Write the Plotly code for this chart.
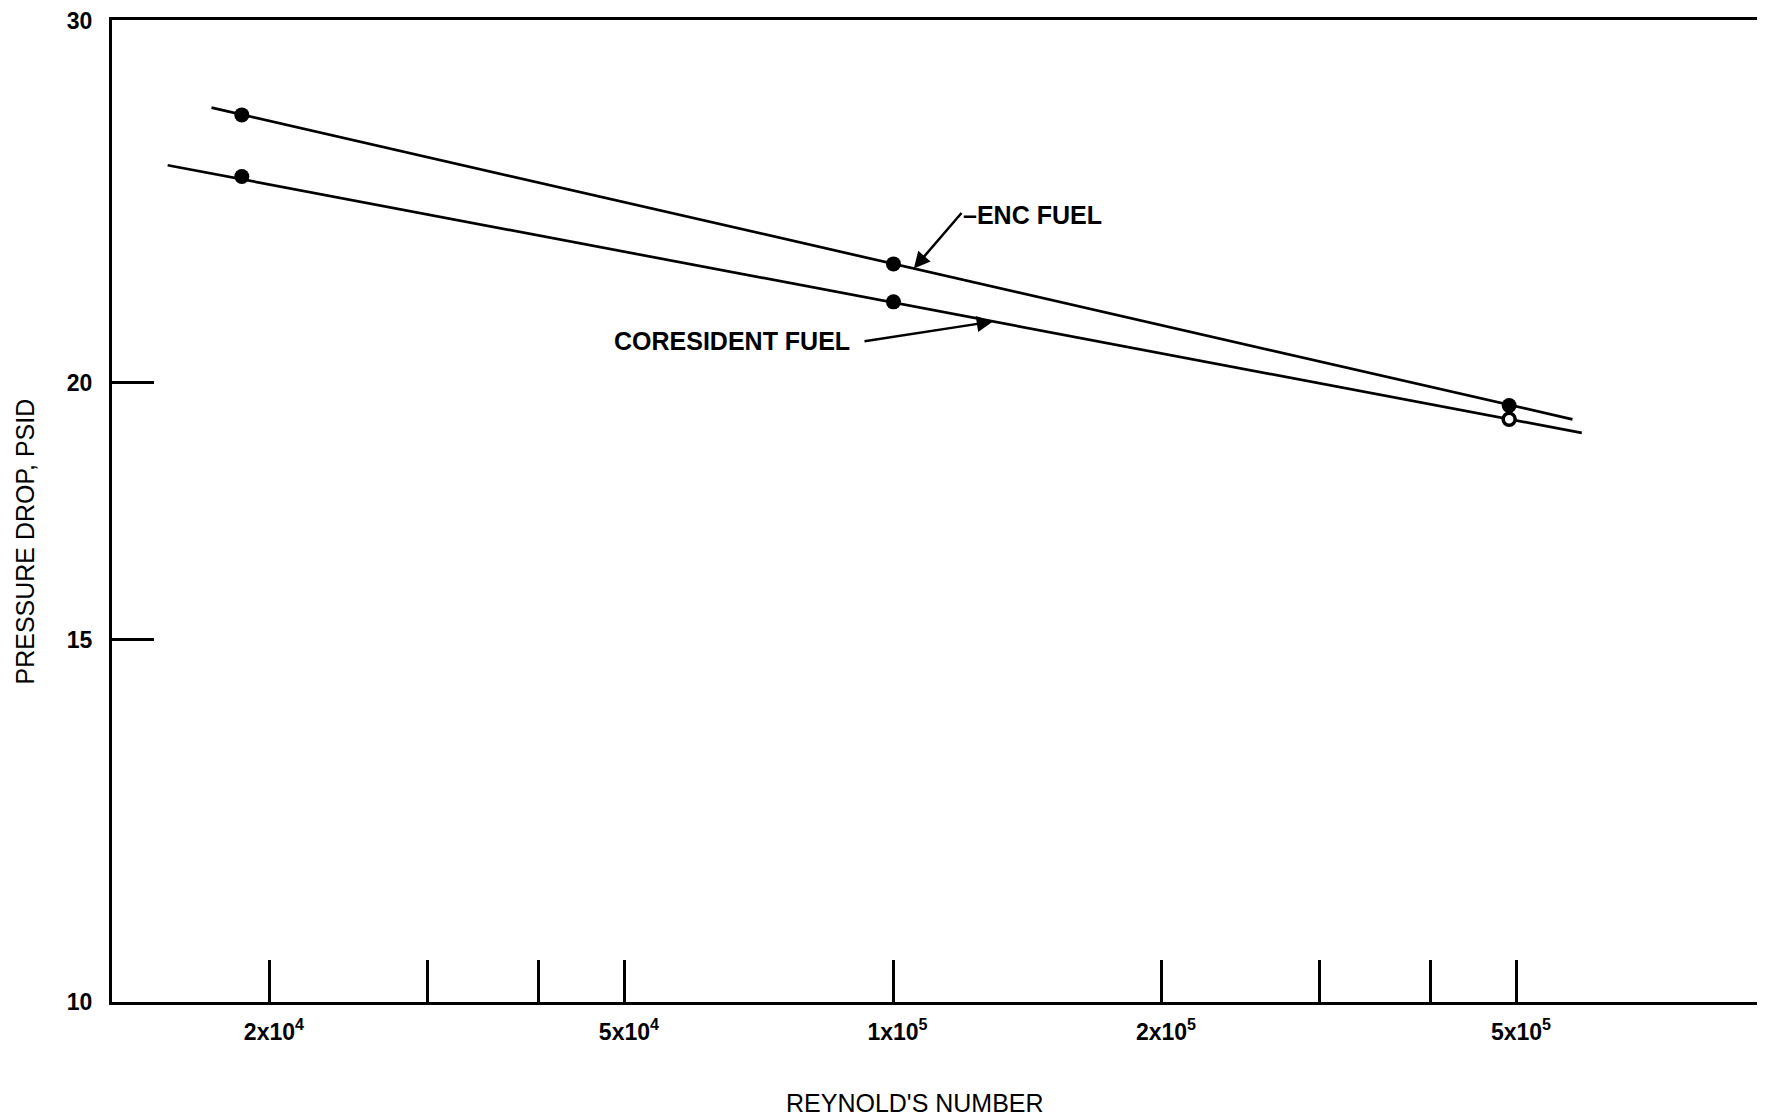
import numpy as np
import plotly.graph_objects as go

# ---- data ----
reynolds_pts = [1.86e4, 1.0e5, 4.9e5]
enc_pts = [27.0, 22.85, 19.5]
cores_pts = [25.2, 21.9, 19.2]
cores_hollow = [False, False, True]

# fitted straight lines (end points)
enc_line_x = [1.72e4, 5.77e5]
enc_line_y = [27.22, 19.20]
cores_line_x = [1.536e4, 5.91e5]
cores_line_y = [25.52, 18.91]

x_tickvals = [2e4, 3e4, 4e4, 5e4, 1e5, 2e5, 3e5, 4e5, 5e5]
x_ticktext = ["2x10<sup>4</sup>", "", "", "5x10<sup>4</sup>", "1x10<sup>5</sup>",
              "2x10<sup>5</sup>", "", "", "5x10<sup>5</sup>"]
y_tickvals = [10, 15, 20, 30]
y_ticktext = ["10", "15", "20", "30"]

# label positions (Reynolds number, psid)
enc_label_pos = (1.234e5, 24.14)
cores_label_pos = (8.99e4, 20.97)
enc_arrow_x = 1.054e5
cores_arrow_x = 1.293e5

FONT = "Liberation Sans, Arial, sans-serif"


def on_line(xs, ys, x):
    lx = np.log10(xs)
    ly = np.log10(ys)
    t = (np.log10(x) - lx[0]) / (lx[1] - lx[0])
    return ly[0] + t * (ly[1] - ly[0])


filled_x = [x for x, h in zip(reynolds_pts, cores_hollow) if not h]
filled_y = [y for y, h in zip(cores_pts, cores_hollow) if not h]
hollow_x = [x for x, h in zip(reynolds_pts, cores_hollow) if h]
hollow_y = [y for y, h in zip(cores_pts, cores_hollow) if h]

fig = go.Figure()
fig.add_trace(go.Scatter(x=enc_line_x, y=enc_line_y, mode="lines",
                         line=dict(color="black", width=2.7), showlegend=False))
fig.add_trace(go.Scatter(x=cores_line_x, y=cores_line_y, mode="lines",
                         line=dict(color="black", width=2.7), showlegend=False))
fig.add_trace(go.Scatter(x=reynolds_pts, y=enc_pts, mode="markers",
                         marker=dict(color="black", size=15, opacity=1,
                                     line=dict(color="black", width=0)),
                         showlegend=False))
fig.add_trace(go.Scatter(x=filled_x, y=filled_y, mode="markers",
                         marker=dict(color="black", size=15, opacity=1,
                                     line=dict(color="black", width=0)),
                         showlegend=False))
fig.add_trace(go.Scatter(x=hollow_x, y=hollow_y, mode="markers",
                         marker=dict(color="white", size=12, opacity=1,
                                     line=dict(color="black", width=3.5)),
                         showlegend=False))

ann = []
# arrows
ann.append(dict(x=np.log10(enc_arrow_x), y=on_line(enc_line_x, enc_line_y, enc_arrow_x),
                xref="x", yref="y", text="", showarrow=True, ax=49, ay=-57,
                arrowhead=2, arrowsize=1.3, arrowwidth=2.5, arrowcolor="black"))
ann.append(dict(x=np.log10(cores_arrow_x), y=on_line(cores_line_x, cores_line_y, cores_arrow_x),
                xref="x", yref="y", text="", showarrow=True, ax=-130, ay=20,
                arrowhead=2, arrowsize=1.3, arrowwidth=2.5, arrowcolor="black"))
# labels
ann.append(dict(x=np.log10(enc_label_pos[0]), y=np.log10(enc_label_pos[1]), xref="x", yref="y",
                text="\u2013ENC FUEL", showarrow=False, xanchor="left",
                xshift=-14, font=dict(family=FONT, size=25, color="black", weight="bold")))
ann.append(dict(x=np.log10(cores_label_pos[0]), y=np.log10(cores_label_pos[1]), xref="x", yref="y",
                text="CORESIDENT FUEL", showarrow=False, xanchor="right",
                font=dict(family=FONT, size=25, color="black", weight="bold")))
# axis titles
ann.append(dict(x=-0.0526, y=0.469, xref="paper", yref="paper", text="PRESSURE DROP, PSID",
                showarrow=False, textangle=-90, xanchor="center", yanchor="middle",
                font=dict(family=FONT, size=25, color="black")))
ann.append(dict(x=0.4858, y=-0.1029, xref="paper", yref="paper", text="REYNOLD'S NUMBER",
                showarrow=False, xanchor="center", yanchor="middle",
                font=dict(family=FONT, size=25, color="black")))

# the page body has an 8px margin; the figure is offset by it
fig.update_layout(
    width=1757, height=1112,
    margin=dict(l=104, r=0, t=12, b=118),
    paper_bgcolor="white", plot_bgcolor="white",
    annotations=ann,
    xaxis=dict(type="log", range=[4.124, 5.977], showgrid=False, zeroline=False,
               showline=True, linecolor="black", linewidth=3, mirror=True,
               ticks="inside", ticklen=42, tickwidth=3, tickcolor="black",
               tickvals=x_tickvals, ticktext=x_ticktext, ticklabelstandoff=7,
               ticklabelshift=4, ticklabeloverflow="allow",
               tickfont=dict(family=FONT, size=23, color="black", weight="bold")),
    yaxis=dict(type="log", range=[0.9999, np.log10(30) + 0.0004], showgrid=False, zeroline=False,
               showline=True, linecolor="black", linewidth=3, mirror=False,
               ticks="inside", ticklen=42, tickwidth=3, tickcolor="black",
               tickvals=y_tickvals, ticktext=y_ticktext, ticklabelstandoff=12,
               ticklabeloverflow="allow",
               tickfont=dict(family=FONT, size=23, color="black", weight="bold")),
)

fig.write_html("out.html")
